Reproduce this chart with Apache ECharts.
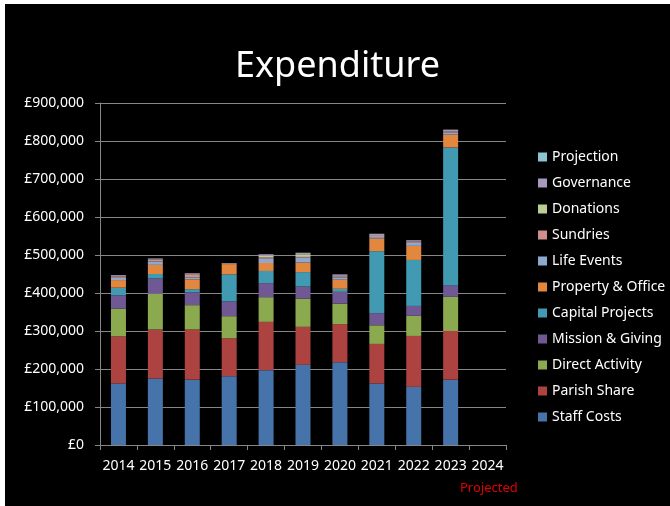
<!DOCTYPE html>
<html>
<head>
<meta charset="utf-8">
<title>Expenditure</title>
<script src="https://cdn.jsdelivr.net/npm/echarts@6/dist/echarts.min.js"></script>
<style>
  html, body { margin: 0; padding: 0; background: #fff; }
  #chart { position: absolute; left: 5px; top: 4px; width: 665px; height: 502px; background: #000; }
</style>
</head>
<body>
<div id="chart"></div>
<script>
// 年份
const years = ['2014', '2015', '2016', '2017', '2018', '2019', '2020', '2021', '2022', '2023', '2024']

// 各项支出（£），按堆叠顺序从下到上
const staffCosts = [162000, 175000, 172000, 181000, 197000, 211000, 218000, 162000, 153000, 172000, null]
const parishShare = [124000, 129000, 132000, 100000, 127000, 100000, 100000, 104000, 134000, 128000, null]
const directActivity = [73000, 94000, 64000, 58000, 65000, 74000, 54000, 49000, 53000, 90000, null]
const missionGiving = [35000, 40000, 34000, 39000, 37000, 32000, 31000, 32000, 26000, 30000, null]
const capitalProjects = [20000, 12000, 8000, 71000, 32000, 38000, 8000, 163000, 121000, 363000, null]
const propertyOffice = [20000, 24000, 26000, 27000, 21000, 25000, 24000, 33000, 37000, 34000, null]
const lifeEvents = [6000, 9000, 5000, 0, 11000, 13000, 6000, 4000, 8000, 5000, null]
const sundries = [3000, 5000, 8000, 1000, 4000, 2000, 3000, 3000, 3000, 3000, null]
const donations = [1000, 1000, 1000, 0, 4000, 7000, 1000, 2000, 1000, 1000, null]
const governance = [3000, 2000, 2000, 2000, 4000, 4000, 4000, 4000, 3000, 4000, null]
const projection = [null, null, null, null, null, null, null, null, null, null, null]

// y轴刻度
const yMax = 900000
const yStep = 100000

const seriesList = [
  { name: 'Staff Costs', data: staffCosts, color: '#4673AA' },
  { name: 'Parish Share', data: parishShare, color: '#AD4340' },
  { name: 'Direct Activity', data: directActivity, color: '#8BA94F' },
  { name: 'Mission & Giving', data: missionGiving, color: '#6F5893' },
  { name: 'Capital Projects', data: capitalProjects, color: '#419AB1' },
  { name: 'Property & Office', data: propertyOffice, color: '#E2873D' },
  { name: 'Life Events', data: lifeEvents, color: '#8FA8CF' },
  { name: 'Sundries', data: sundries, color: '#CF8F8D' },
  { name: 'Donations', data: donations, color: '#BACD95' },
  { name: 'Governance', data: governance, color: '#A898BD' },
  { name: 'Projection', data: projection, color: '#8CC3D3' }
]

const font = '"Noto Sans", "DejaVu Sans", sans-serif'
const gridColor = '#868686'

const chart = echarts.init(document.getElementById('chart'))

const option = {
  backgroundColor: '#000',
  animation: false,
  textStyle: { fontFamily: font },
  title: {
    text: 'Expenditure',
    left: 'center',
    top: 40,
    textStyle: { color: '#fff', fontSize: 36, fontWeight: 'normal', fontFamily: font }
  },
  legend: {
    orient: 'vertical',
    left: 528,
    top: 140,
    itemWidth: 9,
    itemHeight: 9,
    itemGap: 10,
    icon: 'rect',
    data: seriesList.map((s) => s.name).reverse(),
    textStyle: { color: '#fff', fontSize: 14, lineHeight: 16, fontFamily: font }
  },
  grid: {
    left: 95,
    right: 164,
    top: 99,
    bottom: 61,
    containLabel: false
  },
  xAxis: {
    type: 'category',
    data: years,
    axisLine: { lineStyle: { color: gridColor } },
    axisTick: { show: true, length: 5, lineStyle: { color: gridColor } },
    axisLabel: { color: '#fff', fontSize: 14, margin: 14, interval: 0, hideOverlap: false, fontFamily: font }
  },
  yAxis: {
    type: 'value',
    min: 0,
    max: yMax,
    interval: yStep,
    axisLine: { show: true, lineStyle: { color: gridColor } },
    axisTick: { show: true, length: 5, lineStyle: { color: gridColor } },
    splitLine: { lineStyle: { color: gridColor, width: 1 } },
    axisLabel: {
      color: '#fff',
      fontSize: 14,
      margin: 16,
      fontFamily: font,
      formatter: (v) => '£' + v.toLocaleString('en-GB')
    }
  },
  series: seriesList.map((s) => ({
    name: s.name,
    type: 'bar',
    stack: 'total',
    barWidth: 15,
    data: s.data,
    itemStyle: { color: s.color }
  })),
  graphic: [
    {
      type: 'text',
      left: 455,
      top: 478,
      style: { text: 'Projected', fill: '#E00000', fontSize: 13, fontFamily: font }
    }
  ]
}

chart.setOption(option)
</script>
</body>
</html>
